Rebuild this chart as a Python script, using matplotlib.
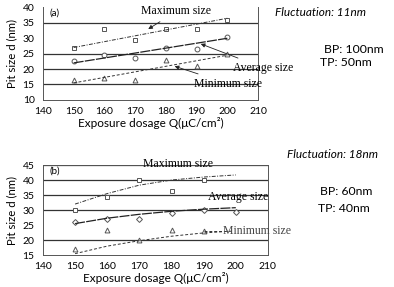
import matplotlib.pyplot as plt

dose = [150, 160, 170, 180, 190, 200]

# panel (a)
max_a = [27, 33, 29.5, 33, 33, 36]
avg_a = [22.5, 24.5, 23.5, 27, 26.5, 30.5]
min_a = [16.5, 17, 16.5, 23, 21, 25]
trend_x_a = [150, 200]
tmax_a = [27, 36.5]
tavg_a = [22, 30]
tmin_a = [15.5, 24.5]

# panel (b)
max_b = [30, 34.5, 40, 36.5, 40]
avg_b = [26, 27, 27, 29, 30, 29.5]
min_b = [17, 23.5, 20, 23.5, 23]
trend_x_b = [150, 160, 170, 180, 190, 200]
tmax_b = [32, 35.5, 38.3, 40, 41, 41.7]
tavg_b = [25.5, 27.3, 28.6, 29.6, 30.3, 30.8]
trend_xmin_b = [150, 160, 170, 180, 190, 199]
tmin_b = [15.5, 18, 19.8, 21.3, 22.4, 23]

plt.rcParams['font.family'] = ['Lato', 'DejaVu Sans']
fig = plt.figure(figsize=(3.94, 2.87), dpi=100)

mk = dict(ls='none', mfc='white', mec='#555555', ms=3.5, mew=0.7)
serif = ['Liberation Serif']


def setup(ax, ylim, grid):
    ax.set_xlim(140, 210)
    ax.set_ylim(*ylim)
    ax.set_xticks(range(140, 211, 10))
    for g in grid:
        ax.axhline(g, color='#333333', lw=0.9, zorder=0)
    ax.tick_params(axis='x', labelsize=7.5, length=0, pad=5)
    ax.tick_params(axis='y', labelsize=7.5, length=0, pad=6)
    for s in ax.spines.values():
        s.set_linewidth(0.7)
        s.set_color('#555555')
    ax.set_ylabel('Pit size d (nm)', fontsize=8.2, va='center')
    pos = ax.get_position()
    ax.yaxis.set_label_coords(0.03, (pos.y0 + pos.y1) / 2, transform=fig.transFigure)
    ax.set_xlabel('Exposure dosage Q(\u03bcC/cm\u00b2)', fontsize=8.5, labelpad=1)


# top panel
a1 = fig.add_axes([0.109, 0.652, 0.546, 0.322])
setup(a1, (10, 40), [15, 20, 25, 35])
a1.set_yticks(range(10, 41, 5))
a1.spines['top'].set_visible(False)
a1.plot(dose, max_a, marker='s', **mk)
a1.plot(dose, avg_a, marker='o', **mk)
a1.plot(dose, min_a, marker='^', **mk)
a1.plot(trend_x_a, tmax_a, color='#333333', lw=0.7, ls=(0, (4, 1.5, 1, 1.5)))
a1.plot(trend_x_a, tavg_a, color='#222222', lw=0.9, ls=(0, (8, 1)))
a1.plot(trend_x_a, tmin_a, color='#333333', lw=0.7, ls=(0, (3, 2)))
a1.text(142, 37.3, '(a)', fontsize=7)
arr = dict(arrowstyle='-|>', color='#222222', lw=0.6, mutation_scale=6)
a1.annotate('Maximum size', xy=(173.5, 32.5), xytext=(172, 38.7), fontsize=8.5,
            family=serif, arrowprops=arr, va='center')
a1.annotate('Average size', xy=(190.5, 28.5), xytext=(202, 20.4), fontsize=8.5,
            family=serif, arrowprops=arr, va='center', annotation_clip=False)
a1.annotate('Minimum size', xy=(182, 21.2), xytext=(189, 15.3), fontsize=8.5,
            family=serif, arrowprops=arr, va='center')

# bottom panel
a2 = fig.add_axes([0.109, 0.111, 0.571, 0.314])
setup(a2, (15, 45), [20, 30, 35, 40, 45])
a2.set_yticks(range(15, 46, 5))
a2.plot(dose[:5], max_b, marker='s', **mk)
a2.plot(dose, avg_b, marker='D', **dict(mk, ms=3))
a2.plot(dose[:5], min_b, marker='^', **mk)
a2.plot(trend_x_b, tmax_b, color='#333333', lw=0.7, ls=(0, (4, 1.5, 1, 1.5)))
a2.plot(trend_x_b, tavg_b, color='#222222', lw=0.9, ls=(0, (8, 1)))
a2.plot(trend_xmin_b, tmin_b, color='#333333', lw=0.7, ls=(0, (3, 2)))
a2.plot([190, 196], [23, 23], color='#333333', lw=0.7, ls=(0, (3, 2)))
a2.text(142, 42.3, '(b)', fontsize=7)
a2.text(171, 45.5, 'Maximum size', fontsize=8.5, family=serif, va='center')
a2.text(191.5, 34.3, 'Average size', fontsize=8.5, family=serif, va='center')
a2.text(196, 23, 'Minimum size', fontsize=8.5, family=serif, va='center', color='#444444')

# side notes
fig.text(0.697, 0.957, 'Fluctuation: 11nm', fontsize=8.5, style='italic', va='center')
fig.text(0.823, 0.826, 'BP: 100nm', fontsize=8.8, va='center')
fig.text(0.811, 0.781, 'TP: 50nm', fontsize=8.8, va='center')
fig.text(0.728, 0.46, 'Fluctuation: 18nm', fontsize=8.5, style='italic', va='center')
fig.text(0.812, 0.332, 'BP: 60nm', fontsize=8.8, va='center')
fig.text(0.806, 0.272, 'TP: 40nm', fontsize=8.8, va='center')

fig.savefig('out.png', dpi=100)
